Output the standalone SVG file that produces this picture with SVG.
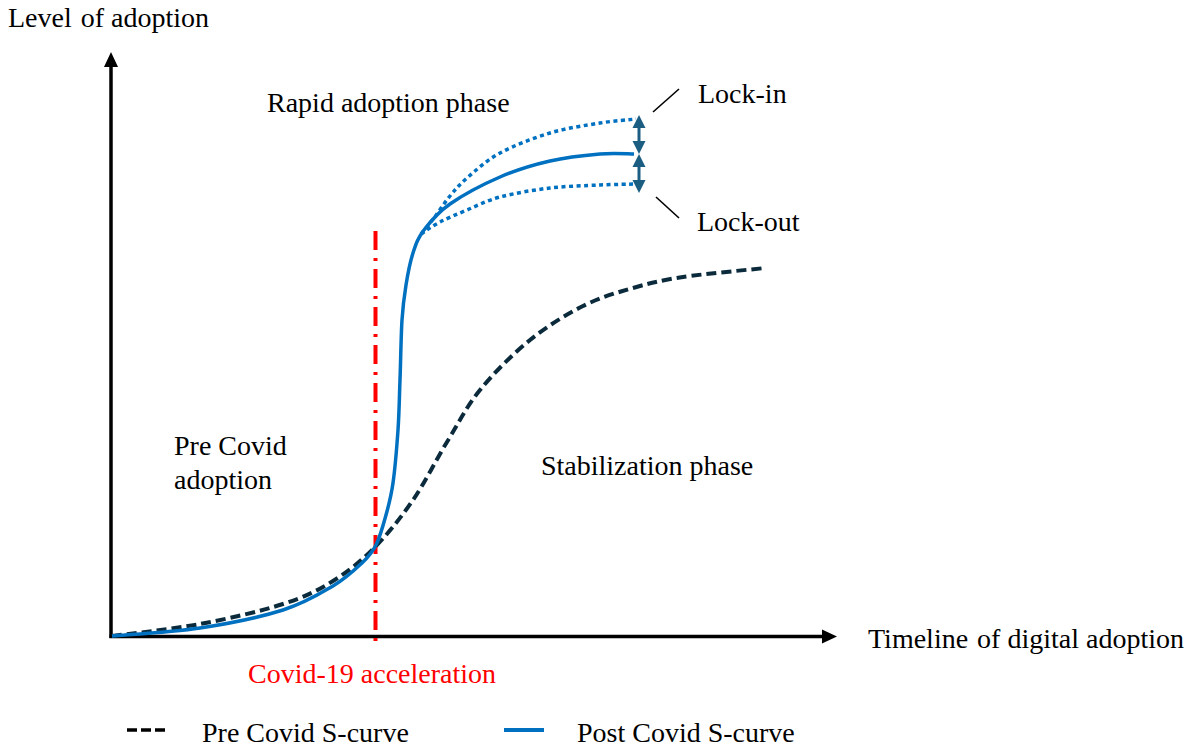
<svg xmlns="http://www.w3.org/2000/svg" width="1193" height="749" viewBox="0 0 1193 749">
  <style>
    text { font-family: "Liberation Serif", Tinos, "DejaVu Serif", "Noto Serif", serif; font-size: 28px; fill: #000; }
    .axis { stroke: #000; stroke-width: 3.5; fill: none; }
    .pre { stroke: #0B2B3C; stroke-width: 4; fill: none; stroke-dasharray: 10 5; }
    .post { stroke: #0070C0; stroke-width: 3.5; fill: none; }
    .scenario { stroke: #0070C0; stroke-width: 3.5; fill: none; stroke-dasharray: 4 3.5; }
    .covid { stroke: #FF0000; stroke-width: 4; fill: none; stroke-dasharray: 19 8 3 8; }
    .dbl { stroke: #1B5E82; stroke-width: 3; }
    .dblhead { fill: #1B5E82; }
    .leader { stroke: #000; stroke-width: 1.6; }
  </style>

  <!-- axes -->
  <g id="axes">
    <line class="axis" x1="111" y1="638" x2="111" y2="64"/>
    <polygon points="111,52 104,67 118,67" fill="#000"/>
    <line class="axis" x1="109.5" y1="636.5" x2="825" y2="636.5"/>
    <polygon points="837,636.5 822,629.5 822,643.5" fill="#000"/>
  </g>

  <g id="connectors">
    <!-- Covid-19 marker -->
    <line class="covid" x1="375.5" y1="231" x2="375.5" y2="641"/>

    <!-- pre-Covid S-curve -->
    <path class="pre" d="M112,636 C126.7,634 171.5,629.3 200,624 C228.5,618.7 260.8,611.2 283,604 C305.2,596.8 317.7,590.5 333,581 C348.3,571.5 361.7,560.5 375,547 C388.3,533.5 401,517.5 413,500 C425,482.5 435.8,460.3 447,442 C458.2,423.7 466.2,407 480,390 C493.8,373 512.8,354 530,340 C547.2,326 565.8,314.7 583,306 C600.2,297.3 616.3,292.8 633,288 C649.7,283.2 661,280.3 683,277 C705,273.7 751.3,269.5 765,268"/>

    <!-- post-Covid S-curve -->
    <path class="post" d="M112,636 C126.7,634.7 171.5,632.3 200,628 C228.5,623.7 260.8,617 283,610 C305.2,603 319.8,593.8 333,586 C346.2,578.2 354.8,569.8 362,563 C369.2,556.2 372,553 376,545 C380,537 383.2,525.3 386,515 C388.8,504.7 391,497.2 393,483 C395,468.8 396.8,447.2 398,430 C399.2,412.8 399.3,398.3 400,380 C400.7,361.7 401,335.8 402,320 C403,304.2 404.2,296.2 406,285 C407.8,273.8 410,262.2 413,253 C416,243.8 417.8,238.2 424,230 C430.2,221.8 437.3,212.8 450,204 C462.7,195.2 483.3,184.2 500,177 C516.7,169.8 533.3,164.8 550,161 C566.7,157.2 586,155.2 600,154 C614,152.8 628.3,154 634,154"/>

    <!-- lock-in scenario -->
    <path class="scenario" d="M421,234 C423.2,231.3 429.2,224.3 434,218 C438.8,211.7 444.5,202.7 450,196 C455.5,189.3 458.7,185.2 467,178 C475.3,170.8 486.2,160.5 500,153 C513.8,145.5 533.3,138 550,133 C566.7,128 585.7,125.3 600,123 C614.3,120.7 630,119.7 636,119"/>

    <!-- lock-out scenario -->
    <path class="scenario" d="M421,234 C424.2,232 432.3,226 440,222 C447.7,218 457,214.2 467,210 C477,205.8 486.2,200.7 500,197 C513.8,193.3 533.3,190 550,188 C566.7,186 585.7,185.7 600,185 C614.3,184.3 630,184.2 636,184"/>

    <!-- double arrows between scenarios -->
    <line class="dbl" x1="639" y1="126" x2="639" y2="143"/>
    <polygon class="dblhead" points="639,115 632.5,128 645.5,128"/>
    <polygon class="dblhead" points="639,154 632.5,141 645.5,141"/>
    <line class="dbl" x1="639" y1="165" x2="639" y2="182"/>
    <polygon class="dblhead" points="639,154 632.5,167 645.5,167"/>
    <polygon class="dblhead" points="639,193 632.5,180 645.5,180"/>

    <!-- leader lines -->
    <line class="leader" x1="653" y1="112" x2="679" y2="89"/>
    <line class="leader" x1="656" y1="197" x2="679" y2="218"/>
  </g>

  <!-- labels -->
  <g id="label-y-axis"><text x="8" y="27">Level <tspan dx="2">of adoption</tspan></text></g>
  <g id="label-x-axis"><text x="868" y="648">Timeline <tspan dx="2">of digital adoption</tspan></text></g>
  <g id="label-rapid"><text x="267" y="112">Rapid adoption phase</text></g>
  <g id="label-lock-in"><text x="698" y="103">Lock-in</text></g>
  <g id="label-lock-out"><text x="697" y="231">Lock-out</text></g>
  <g id="label-pre-covid">
    <text x="174" y="455">Pre Covid</text>
    <text x="174" y="489">adoption</text>
  </g>
  <g id="label-stabilization"><text x="541" y="475">Stabilization phase</text></g>
  <g id="label-covid"><text x="248" y="683" style="fill:#FF0000">Covid-19 acceleration</text></g>

  <!-- legend -->
  <g id="legend-pre">
    <line x1="127" y1="730" x2="165" y2="730" stroke="#000" stroke-width="3.5" stroke-dasharray="10 4"/>
    <text x="202" y="742">Pre Covid S-curve</text>
  </g>
  <g id="legend-post">
    <line x1="504" y1="730" x2="544" y2="730" stroke="#0070C0" stroke-width="4"/>
    <text x="577" y="742">Post Covid S-curve</text>
  </g>
</svg>
